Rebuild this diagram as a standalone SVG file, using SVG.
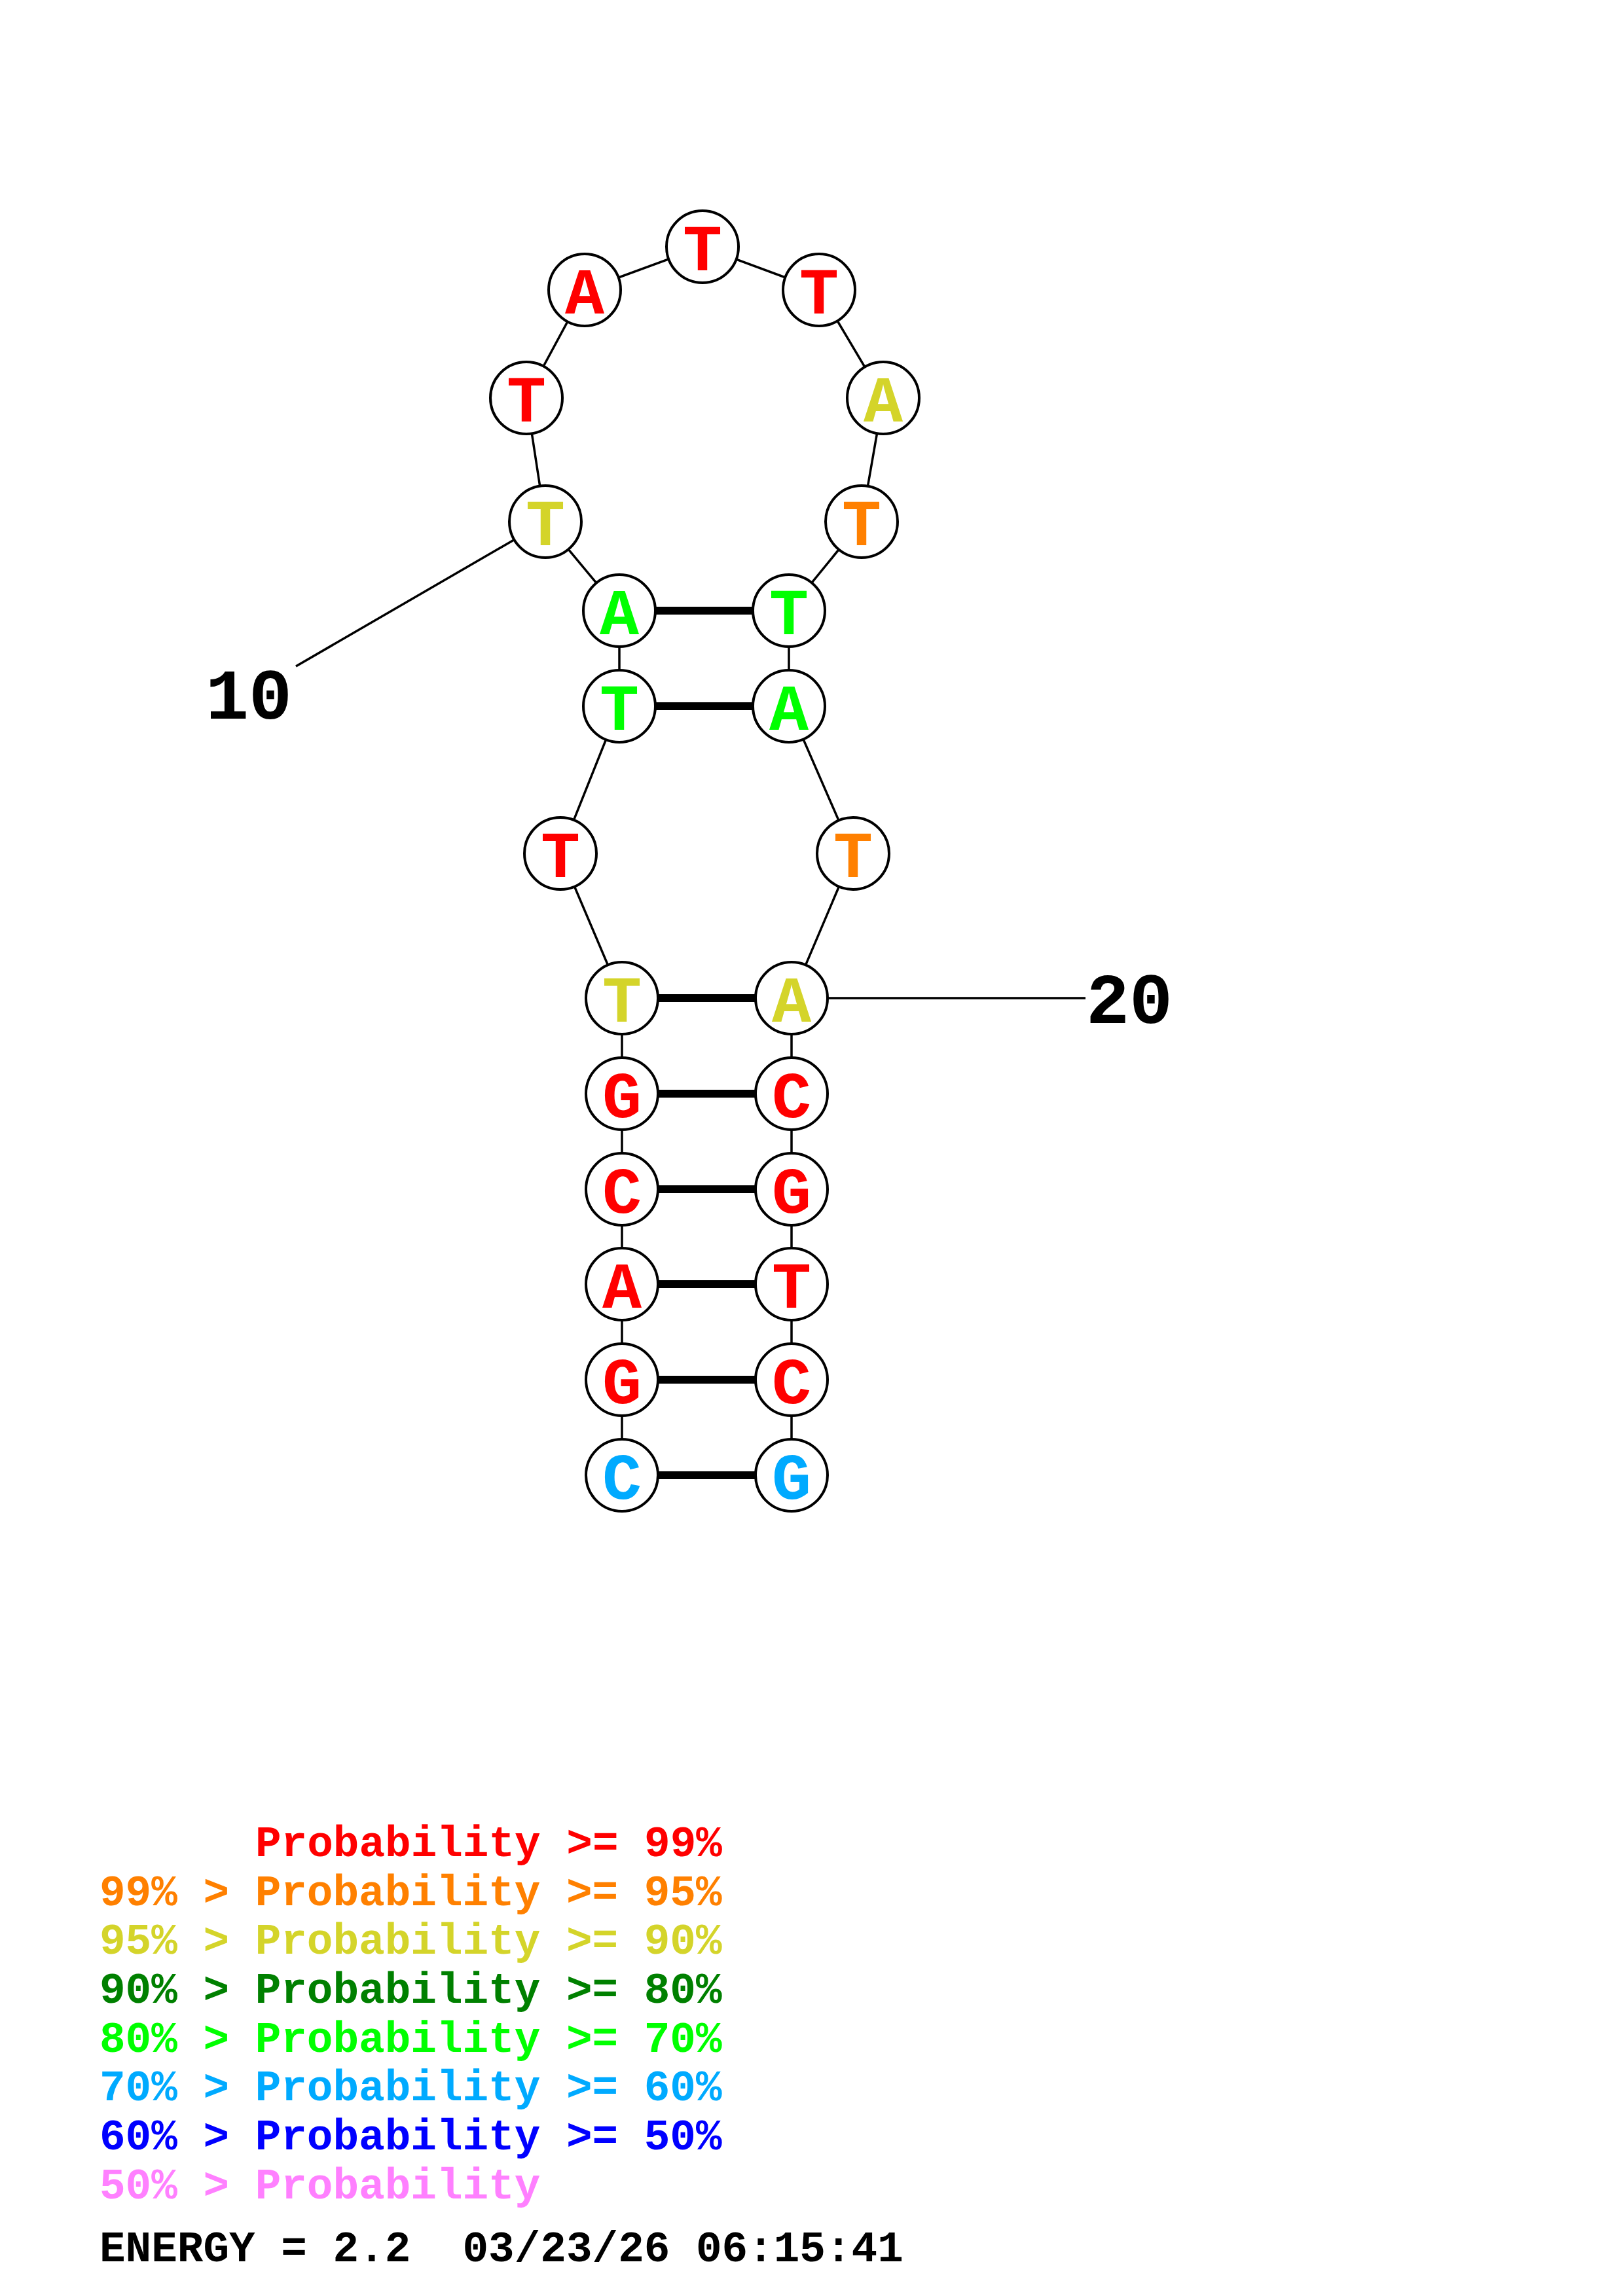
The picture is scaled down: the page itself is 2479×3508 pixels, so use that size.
<svg xmlns="http://www.w3.org/2000/svg" width="2479" height="3508" viewBox="0 0 2479 3508">
<style>
.bb{stroke:#000;stroke-width:3.5;fill:none}
.bp{stroke:#000;stroke-width:12;fill:none}
.nc{fill:#fff;stroke:#000;stroke-width:4}
.nt{font-family:"Liberation Mono",monospace;font-weight:bold;font-size:100px;text-anchor:middle}
.lb{font-family:"Liberation Mono",monospace;font-weight:bold;font-size:110px;text-anchor:middle;fill:#000}
.lg{font-family:"Liberation Mono",monospace;font-weight:bold;font-size:66px}
.r{fill:#ff0000}.o{fill:#ff8000}.y{fill:#d4d42a}.dg{fill:#008000}.g{fill:#00ff00}.b{fill:#00aaff}.db{fill:#0000ff}.p{fill:#ff80ff}.k{fill:#000}
</style>
<rect width="2479" height="3508" fill="#fff"/>
<g id="connectors">
<polyline class="bb" points="950,2254 950,2108 950,1962 950,1817 950,1671 950,1525 856,1304 946,1079 946,933 833,797 804,608 893,443 1073,377 1251,443 1349,608 1316,797 1205,933 1205,1079 1303,1304 1209,1525 1209,1671 1209,1817 1209,1962 1209,2108 1209,2254"/>
<line class="bp" x1="950" y1="2254" x2="1209" y2="2254"/>
<line class="bp" x1="950" y1="2108" x2="1209" y2="2108"/>
<line class="bp" x1="950" y1="1962" x2="1209" y2="1962"/>
<line class="bp" x1="950" y1="1817" x2="1209" y2="1817"/>
<line class="bp" x1="950" y1="1671" x2="1209" y2="1671"/>
<line class="bp" x1="950" y1="1525" x2="1209" y2="1525"/>
<line class="bp" x1="946" y1="1079" x2="1205" y2="1079"/>
<line class="bp" x1="946" y1="933" x2="1205" y2="933"/>
<line class="bb" x1="452" y1="1018" x2="833" y2="797"/>
<line class="bb" x1="1209" y1="1525" x2="1658" y2="1525"/>
</g>
<g id="n1"><circle class="nc" cx="950" cy="2254" r="55"/><text class="nt b" x="950" y="2290">C</text></g>
<g id="n2"><circle class="nc" cx="950" cy="2108" r="55"/><text class="nt r" x="950" y="2144">G</text></g>
<g id="n3"><circle class="nc" cx="950" cy="1962" r="55"/><text class="nt r" x="950" y="1998">A</text></g>
<g id="n4"><circle class="nc" cx="950" cy="1817" r="55"/><text class="nt r" x="950" y="1853">C</text></g>
<g id="n5"><circle class="nc" cx="950" cy="1671" r="55"/><text class="nt r" x="950" y="1707">G</text></g>
<g id="n6"><circle class="nc" cx="950" cy="1525" r="55"/><text class="nt y" x="950" y="1561">T</text></g>
<g id="n7"><circle class="nc" cx="856" cy="1304" r="55"/><text class="nt r" x="856" y="1340">T</text></g>
<g id="n8"><circle class="nc" cx="946" cy="1079" r="55"/><text class="nt g" x="946" y="1115">T</text></g>
<g id="n9"><circle class="nc" cx="946" cy="933" r="55"/><text class="nt g" x="946" y="969">A</text></g>
<g id="n10"><circle class="nc" cx="833" cy="797" r="55"/><text class="nt y" x="833" y="833">T</text></g>
<g id="n11"><circle class="nc" cx="804" cy="608" r="55"/><text class="nt r" x="804" y="644">T</text></g>
<g id="n12"><circle class="nc" cx="893" cy="443" r="55"/><text class="nt r" x="893" y="479">A</text></g>
<g id="n13"><circle class="nc" cx="1073" cy="377" r="55"/><text class="nt r" x="1073" y="413">T</text></g>
<g id="n14"><circle class="nc" cx="1251" cy="443" r="55"/><text class="nt r" x="1251" y="479">T</text></g>
<g id="n15"><circle class="nc" cx="1349" cy="608" r="55"/><text class="nt y" x="1349" y="644">A</text></g>
<g id="n16"><circle class="nc" cx="1316" cy="797" r="55"/><text class="nt o" x="1316" y="833">T</text></g>
<g id="n17"><circle class="nc" cx="1205" cy="933" r="55"/><text class="nt g" x="1205" y="969">T</text></g>
<g id="n18"><circle class="nc" cx="1205" cy="1079" r="55"/><text class="nt g" x="1205" y="1115">A</text></g>
<g id="n19"><circle class="nc" cx="1303" cy="1304" r="55"/><text class="nt o" x="1303" y="1340">T</text></g>
<g id="n20"><circle class="nc" cx="1209" cy="1525" r="55"/><text class="nt y" x="1209" y="1561">A</text></g>
<g id="n21"><circle class="nc" cx="1209" cy="1671" r="55"/><text class="nt r" x="1209" y="1707">C</text></g>
<g id="n22"><circle class="nc" cx="1209" cy="1817" r="55"/><text class="nt r" x="1209" y="1853">G</text></g>
<g id="n23"><circle class="nc" cx="1209" cy="1962" r="55"/><text class="nt r" x="1209" y="1998">T</text></g>
<g id="n24"><circle class="nc" cx="1209" cy="2108" r="55"/><text class="nt r" x="1209" y="2144">C</text></g>
<g id="n25"><circle class="nc" cx="1209" cy="2254" r="55"/><text class="nt b" x="1209" y="2290">G</text></g>
<g id="labels">
<text class="lb" x="380" y="1098">10</text>
<text class="lb" x="1725" y="1563">20</text>
</g>
<g id="legend">
<text class="lg r" x="390" y="2836">Probability &gt;= 99%</text>
<text class="lg o" x="152" y="2911">99% &gt; Probability &gt;= 95%</text>
<text class="lg y" x="152" y="2985">95% &gt; Probability &gt;= 90%</text>
<text class="lg dg" x="152" y="3060">90% &gt; Probability &gt;= 80%</text>
<text class="lg g" x="152" y="3135">80% &gt; Probability &gt;= 70%</text>
<text class="lg b" x="152" y="3209">70% &gt; Probability &gt;= 60%</text>
<text class="lg db" x="152" y="3284">60% &gt; Probability &gt;= 50%</text>
<text class="lg p" x="152" y="3359">50% &gt; Probability</text>
<text class="lg k" x="152" y="3455" xml:space="preserve">ENERGY = 2.2  03/23/26 06:15:41</text>
</g>
</svg>
